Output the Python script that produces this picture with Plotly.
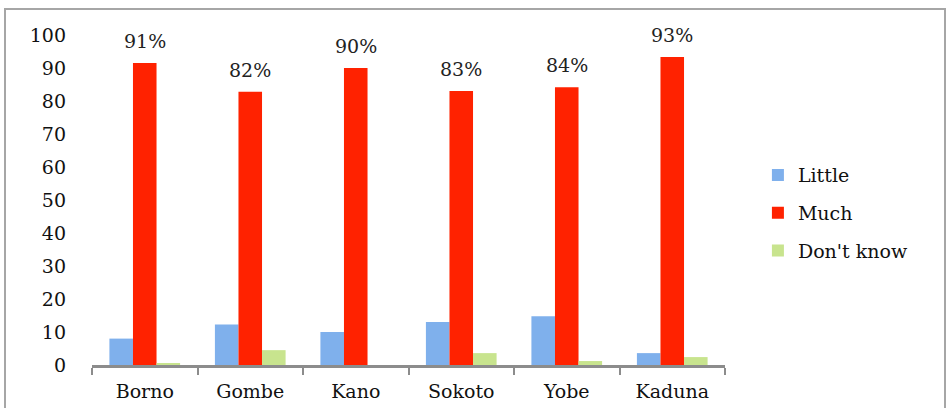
import plotly.graph_objects as go

states = ["Borno", "Gombe", "Kano", "Sokoto", "Yobe", "Kaduna"]
little = [8, 12.3, 10, 13, 14.8, 3.6]
much = [91.5, 82.8, 90, 83, 84.2, 93.3]
dont_know = [0.6, 4.5, 0, 3.6, 1.2, 2.4]
much_labels = ["91%", "82%", "90%", "83%", "84%", "93%"]
yticks = [0, 10, 20, 30, 40, 50, 60, 70, 80, 90, 100]

font = "DejaVu Serif"
fsize = 19

fig = go.Figure()
fig.add_trace(go.Bar(x=states, y=little, name="Little", legendgroup="a",
                     marker=dict(color="#7fb0ec", line=dict(width=0))))
fig.add_trace(go.Bar(x=states, y=much, name="Much", legendgroup="b",
                     marker=dict(color="#ff2200", line=dict(width=0))))
fig.add_trace(go.Bar(x=states, y=dont_know, name="Don't know", legendgroup="c",
                     marker=dict(color="#c8e48e", line=dict(width=0))))

annotations = [
    dict(x=s, y=v, text=t, showarrow=False, xref="x", yref="y",
         yanchor="bottom", yshift=9,
         font=dict(family=font, size=fsize, color="#222"))
    for s, v, t in zip(states, much, much_labels)
]

fig.update_layout(
    width=949, height=408,
    margin=dict(l=92, r=224, t=35, b=43, autoexpand=False),
    paper_bgcolor="white", plot_bgcolor="white",
    barmode="group", bargap=0.33, bargroupgap=0,
    font=dict(family=font, size=fsize, color="#111"),
    showlegend=True,
    legend=dict(x=1.052, y=0.46, xanchor="left", yanchor="middle",
                font=dict(family=font, size=fsize, color="#111"),
                tracegroupgap=10, itemwidth=30, bgcolor="rgba(0,0,0,0)"),
    xaxis=dict(showline=True, linecolor="#8c8c8c", linewidth=3,
               ticks="outside", tickson="boundaries", ticklen=7, tickwidth=2,
               tickcolor="#8c8c8c", showgrid=False, zeroline=False,
               automargin=False, ticklabelstandoff=7,
               tickfont=dict(family=font, size=fsize, color="#111")),
    yaxis=dict(range=[0, 100], tickvals=yticks, showgrid=False, zeroline=False,
               showline=False, ticks="", ticklabelstandoff=25, automargin=False,
               tickfont=dict(family=font, size=fsize, color="#111")),
    annotations=annotations,
    shapes=[dict(type="rect", xref="paper", yref="paper",
                 x0=(5 - 92) / 633, x1=(945 - 92) / 633,
                 y0=(365 - 412) / 330, y1=(365 - 9) / 330,
                 line=dict(color="#a6a6a6", width=2), fillcolor="rgba(0,0,0,0)",
                 layer="below")],
)

fig.write_html("out.html", config={"displayModeBar": False},
               post_script="document.body.style.margin='0';document.body.style.overflow='hidden';")
